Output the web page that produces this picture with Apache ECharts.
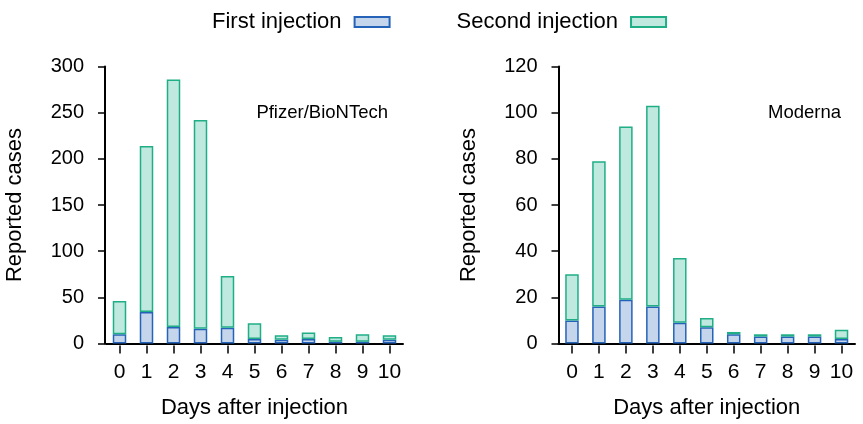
<!DOCTYPE html>
<html>
<head>
<meta charset="utf-8">
<script src="https://cdn.jsdelivr.net/npm/echarts@6/dist/echarts.min.js"></script>
<style>html,body{margin:0;padding:0;background:#fff;}#c{width:863px;height:424px;}</style>
</head>
<body>
<div id="c"></div>
<script>
var days = ['0','1','2','3','4','5','6','7','8','9','10'];
var pfizerFirst  = [10, 34, 18, 16, 17, 5, 4, 5, 2, 2, 4];
var pfizerSecond = [36, 180, 268, 226, 56, 17, 5, 7, 5, 8, 5];
var modernaFirst  = [10, 16, 19, 16, 9, 7, 4, 3, 3, 3, 2];
var modernaSecond = [20, 63, 75, 87, 28, 4, 1, 1, 1, 1, 4];
var pfizerTicks = [0, 300, 50];
var modernaTicks = [0, 120, 20];

var FONT = '"Liberation Sans", Arial, Helvetica, sans-serif';
var firstStyle = {color: '#c4d5ec', borderColor: '#2563b8', borderWidth: 1.5};
var secondStyle = {color: '#bfe9de', borderColor: '#1fae86', borderWidth: 1.5};

function lineAxisX(grid) {
  return {type: 'category', gridIndex: grid, position: 'bottom', data: days, boundaryGap: true,
    axisLine: {show: true, lineStyle: {color: '#000', width: 2}},
    axisTick: {show: false}, axisLabel: {show: false}};
}
function tickAxisX(grid) {
  return {type: 'category', gridIndex: grid, position: 'bottom', data: days, boundaryGap: true, offset: 2,
    axisLine: {show: false},
    axisTick: {show: true, alignWithLabel: true, interval: 0, length: 8, lineStyle: {color: '#000', width: 1.5}},
    axisLabel: {show: true, interval: 0, color: '#000', fontSize: 21, fontFamily: FONT, margin: 16},
    name: 'Days after injection', nameLocation: 'middle', nameGap: 51,
    nameTextStyle: {color: '#000', fontSize: 22, fontFamily: FONT}};
}
function yAx(grid, t, off) {
  return {type: 'value', gridIndex: grid, min: t[0], max: t[1], interval: t[2], offset: off,
    axisLine: {show: true, lineStyle: {color: '#000', width: 2}},
    axisTick: {show: true, length: 7, lineStyle: {color: '#000', width: 1.5}},
    splitLine: {show: false},
    axisLabel: {color: '#000', fontSize: 20, fontFamily: FONT, margin: 21},
    name: 'Reported cases', nameLocation: 'middle', nameGap: 79,
    nameTextStyle: {color: '#000', fontSize: 22, fontFamily: FONT}};
}

var chart = echarts.init(document.getElementById('c'), null, {renderer: 'canvas'});
chart.setOption({
  animation: false,
  backgroundColor: '#fff',
  textStyle: {fontFamily: FONT},
  legend: {
    left: 207, top: 6, itemWidth: 35, itemHeight: 10, itemGap: 66, align: 'right', icon: 'rect',
    data: ['First injection', 'Second injection'],
    textStyle: {color: '#000', fontSize: 22, fontFamily: FONT, padding: [0, 8, 0, 0]}
  },
  grid: [
    {left: 106, top: 66.5, width: 297, height: 277},
    {left: 558.5, top: 66.5, width: 296.5, height: 277}
  ],
  xAxis: [lineAxisX(0), tickAxisX(0), lineAxisX(1), tickAxisX(1)],
  yAxis: [yAx(0, pfizerTicks, 1), yAx(1, modernaTicks, 0)],
  graphic: [
    {type: 'text', right: 475, top: 103, style: {text: 'Pfizer/BioNTech', fill: '#000', font: '18.5px ' + FONT}},
    {type: 'text', right: 22, top: 103, style: {text: 'Moderna', fill: '#000', font: '18.5px ' + FONT}}
  ],
  series: [
    {name: 'First injection', type: 'bar', xAxisIndex: 0, yAxisIndex: 0, stack: 'p', barWidth: 13.5, data: pfizerFirst, itemStyle: firstStyle},
    {name: 'Second injection', type: 'bar', xAxisIndex: 0, yAxisIndex: 0, stack: 'p', barWidth: 13.5, data: pfizerSecond, itemStyle: secondStyle},
    {name: 'First injection', type: 'bar', xAxisIndex: 2, yAxisIndex: 1, stack: 'm', barWidth: 13.5, data: modernaFirst, itemStyle: firstStyle},
    {name: 'Second injection', type: 'bar', xAxisIndex: 2, yAxisIndex: 1, stack: 'm', barWidth: 13.5, data: modernaSecond, itemStyle: secondStyle}
  ]
});
</script>
</body>
</html>
